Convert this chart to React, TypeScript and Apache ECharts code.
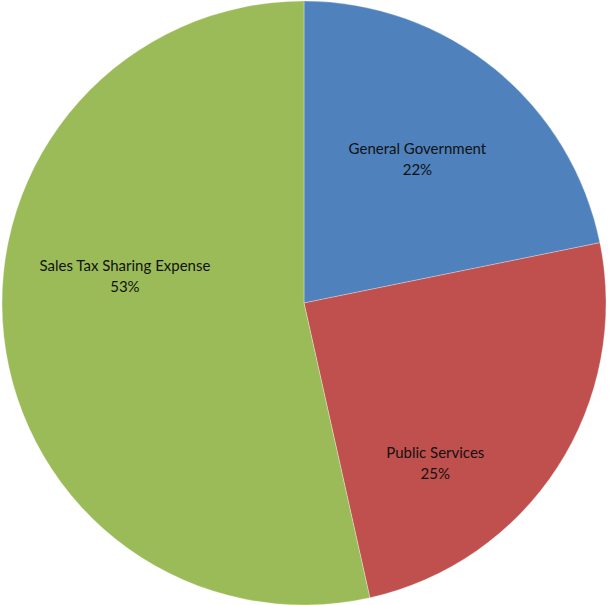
import React, { useEffect, useRef } from "react";
import * as echarts from "echarts";

const categories = ["General Government", "Public Services", "Sales Tax Sharing Expense"];
const values = [21.8, 24.7, 53.5];
const colors = ["#4F81BD", "#C0504D", "#9BBB59"];
const labelOffsets = [[16, -25], [2, 76], [-26, -44]];

export default function App() {
  const ref = useRef<HTMLDivElement>(null);
  useEffect(() => {
    document.body.style.margin = "0";
    const chart = echarts.init(ref.current!, null, { renderer: "svg" });
    chart.setOption({
      animation: false,
      backgroundColor: "#ffffff",
      series: [
        {
          type: "pie",
          center: [304, 303],
          radius: 302,
          startAngle: 90,
          clockwise: true,
          percentPrecision: 0,
          avoidLabelOverlap: false,
          itemStyle: { borderColor: "rgba(255,255,255,0.6)", borderWidth: 0.5 },
          label: {
            show: true,
            position: "inside",
            formatter: "{b}\n{d}%",
            fontFamily: "Lato, 'Open Sans', sans-serif",
            fontSize: 15,
            lineHeight: 21,
            color: "#111111",
          },
          labelLine: { show: false },
          emphasis: { disabled: true },
          data: categories.map((name, i) => ({
            name,
            value: values[i],
            itemStyle: { color: colors[i] },
            label: { offset: labelOffsets[i] },
          })),
        },
      ],
    });
    return () => chart.dispose();
  }, []);
  return <div ref={ref} style={{ width: 609, height: 605 }} />;
}
